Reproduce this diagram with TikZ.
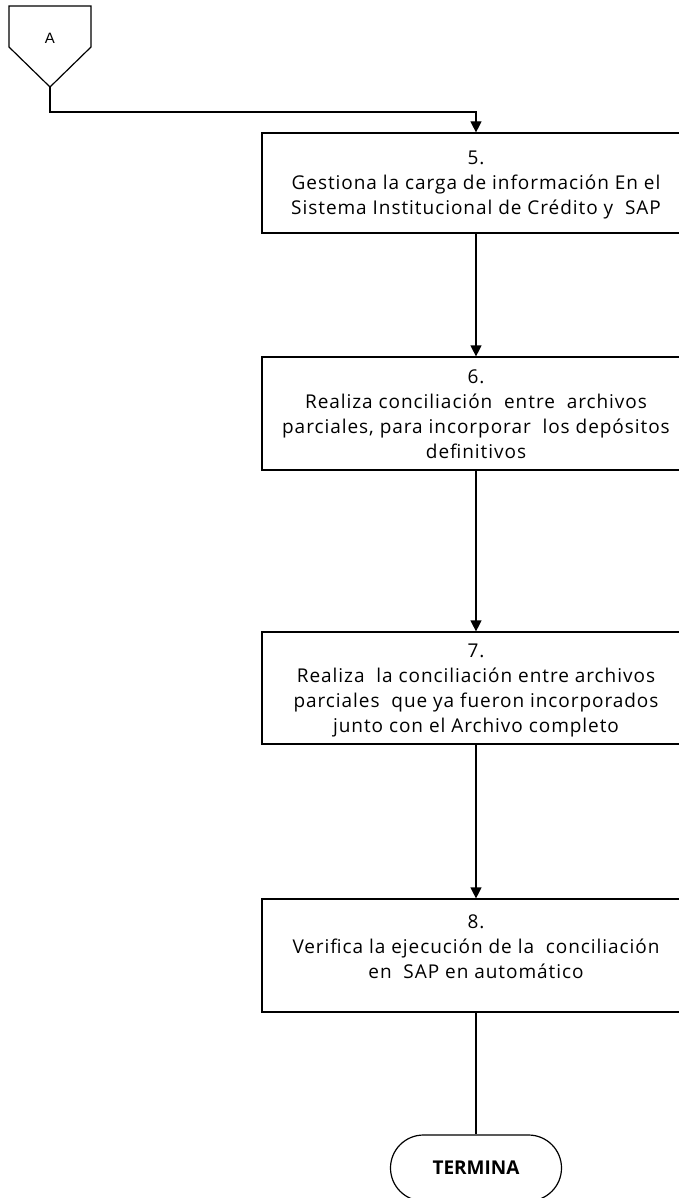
\documentclass[tikz,border=0pt]{standalone}
\usepackage{fontspec}
\setmainfont{Open Sans}
\newfontfamily\lib{Liberation Sans}
\newfontfamily\wide[LetterSpace=5]{Open Sans}
\usetikzlibrary{arrows.meta,calc}
\begin{document}
\begin{tikzpicture}[x=1pt,y=-1pt,
  line width=1.2pt,
  stepbox/.style={draw, minimum width=428pt, inner sep=0pt},
  steptext/.style={align=center, font=\wide\fontsize{19}{25}\selectfont, inner sep=0pt},
  arr/.style={-{Triangle[length=11pt,width=11pt]}},
]
\useasboundingbox (0,0) rectangle (679,1198);
% off-page connector
\draw (9,6) -- (91,6) -- (91,47) -- (50,87) -- (9,47) -- cycle;
\node[font=\lib\fontsize{15}{18}\selectfont] (A) at (50,38) {A};
\coordinate (Ap) at (50,87);
\coordinate (bend) at (50,112);
% boxes
\node[stepbox, minimum height=100pt] (b5) at (476,183) {};
\node[steptext] (t5) at (476,185) {5.\\Gestiona la carga de información En el\\Sistema Institucional de Crédito y\ \ SAP};
\node[stepbox, minimum height=113pt] (b6) at (476,413.5) {};
\node[steptext] (t6) at (476,414) {6.\\Realiza conciliación\ \ entre\ \ archivos\\parciales, para incorporar\ \ los depósitos\\definitivos};
\node[stepbox, minimum height=112pt] (b7) at (476,688) {};
\node[steptext] (t7) at (476,690) {7.\\Realiza\ \ la conciliación entre archivos\\parciales\ \ que ya fueron incorporados\\junto con el Archivo completo};
\node[stepbox, minimum height=113pt] (b8) at (476,955.5) {};
\node[steptext] (t8) at (476,947) {8.\\Verifica la ejecución de la\ \ conciliación\\en\ \ SAP en automático};
\node[draw, minimum width=171pt, minimum height=66pt, rounded corners=33pt, inner sep=0pt, font=\bfseries\fontsize{19}{22}\selectfont] (term) at (476,1168) {TERMINA};
% connectors
\draw[arr] (Ap) -- (bend) -| (b5.north);
\draw[arr] (b5.south) -- (b6.north);
\draw[arr] (b6.south) -- (b7.north);
\draw[arr] (b7.south) -- (b8.north);
\draw (b8.south) -- (term.north);
\end{tikzpicture}
\end{document}
